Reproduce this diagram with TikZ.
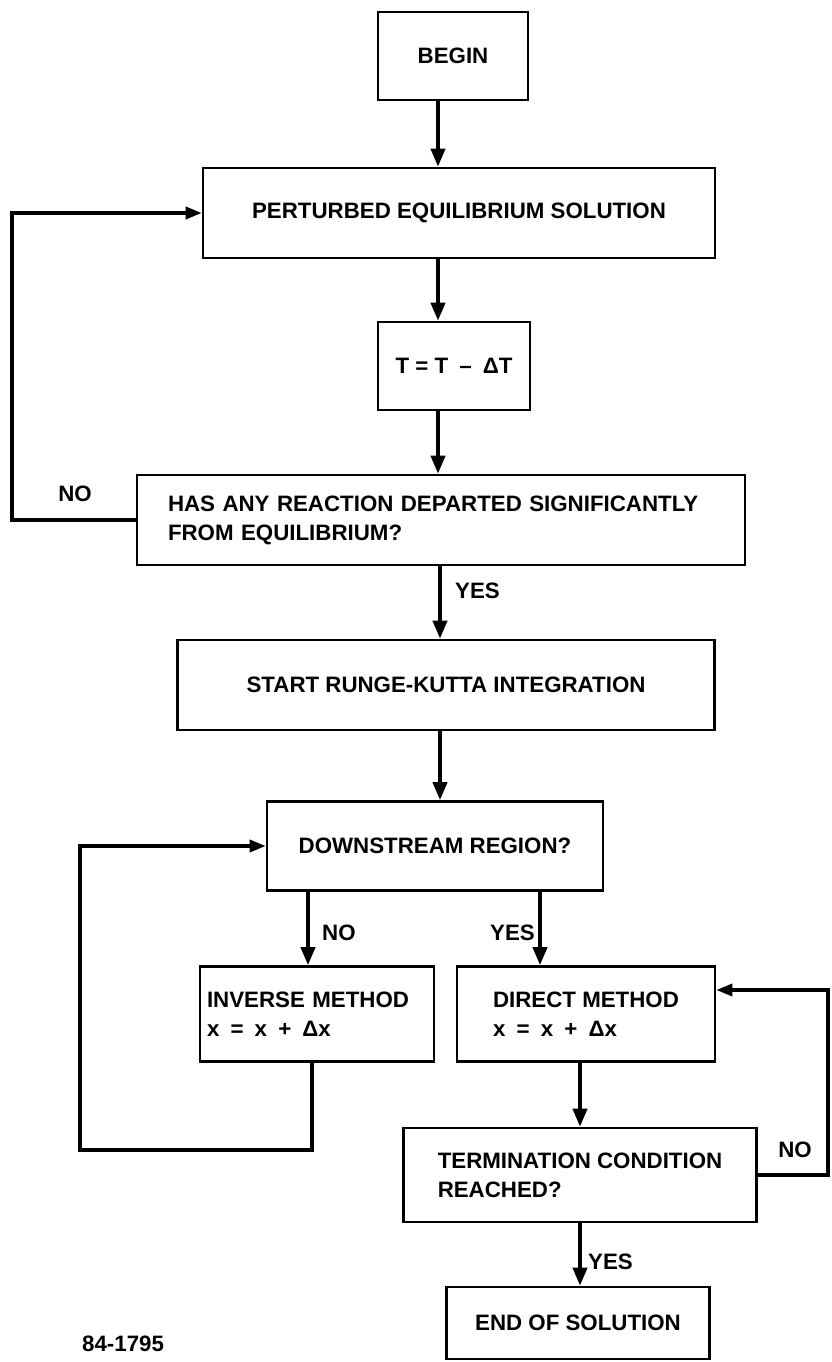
\documentclass[tikz,border=0pt]{standalone}
\usepackage{fontspec}
\setmainfont{Liberation Sans}
\usetikzlibrary{arrows.meta}
\begin{document}
\begin{tikzpicture}[x=1pt,y=-1pt,
  box/.style={draw,line width=2.6pt,inner sep=0pt,align=left,font=\fontsize{22.3}{29}\selectfont\bfseries},
  arr/.style={line width=3.8pt,-{Triangle[length=18pt,width=14pt]}},
  loop/.style={line width=3.4pt,-{Triangle[length=16pt,width=12pt]}},
  lab/.style={font=\fontsize{22.3}{26}\selectfont\bfseries,inner sep=0pt}]
\useasboundingbox (0,0) rectangle (831,1362);
\fill[white] (0,0) rectangle (831,1362);
% boxes
\node[box,minimum width=150pt,minimum height=88pt] (begin) at (453,56) {BEGIN};
\node[box,minimum width=512pt,minimum height=90pt] (pert) at (459,213) {PERTURBED EQUILIBRIUM SOLUTION};
\node[box,minimum width=152pt,minimum height=88pt] (t) at (454,366) {T = T\enspace--\enspace ΔT};
\node[box,inner xsep=31pt,text width=546pt,minimum height=90pt] (has) at (441,520) {HAS ANY REACTION DEPARTED SIGNIFICANTLY\\FROM EQUILIBRIUM?};
\node[box,minimum width=537pt,minimum height=90pt] (start) at (446,685) {START RUNGE-KUTTA INTEGRATION};
\node[box,minimum width=336pt,minimum height=89pt] (down) at (435,846) {DOWNSTREAM REGION?};
\node[box,inner xsep=7pt,text width=220pt,minimum height=95pt] (inv) at (317,1014) {INVERSE METHOD\\x\enspace=\enspace x\enspace+\enspace Δx};
\node[box,minimum width=258pt,minimum height=95pt] (dir) at (586,1014) {DIRECT METHOD\\x\enspace=\enspace x\enspace+\enspace Δx};
\node[box,minimum width=353pt,minimum height=94pt] (term) at (580,1175) {TERMINATION CONDITION\\REACHED?};
\node[box,minimum width=263pt,minimum height=72pt] (end) at (578,1323) {END OF SOLUTION};
% helper coordinates
\coordinate (cx) at (438,0);
\coordinate (sx) at (440,0);
\coordinate (nx) at (308,0);
\coordinate (yx) at (540,0);
\coordinate (ix) at (312,0);
\coordinate (ex) at (580,0);
\coordinate (lx) at (12,0);
\coordinate (lp) at (80,1150);
\coordinate (rt) at (828,990);
% connectors
\draw[arr] (begin.south -| cx) -- (pert.north -| cx);
\draw[arr] (pert.south -| cx) -- (t.north -| cx);
\draw[arr] (t.south -| cx) -- (has.north -| cx);
\draw[arr] (has.south -| sx) -- (start.north -| sx);
\draw[loop] (has.west) -- (has.west -| lx) |- (pert.west);
\draw[arr] (start.south -| sx) -- (down.north -| sx);
\draw[arr] (down.south -| nx) -- (inv.north -| nx);
\draw[arr] (down.south -| yx) -- (dir.north -| yx);
\draw[loop] (inv.south -| ix) |- (lp) |- (down.west);
\draw[arr] (dir.south -| ex) -- (term.north -| ex);
\draw[loop] (term.east) -| (rt) -- (dir.east |- rt);
\draw[arr] (term.south -| ex) -- (end.north -| ex);
% labels
\node[lab] (l1) at (75,494) {NO};
\node[lab,anchor=west] (l2) at (455,591) {YES};
\node[lab,anchor=west] (l3) at (322,933) {NO};
\node[lab,anchor=east] (l4) at (535,933) {YES};
\node[lab] (l5) at (795,1150) {NO};
\node[lab,anchor=west] (l6) at (588,1262) {YES};
\node[lab,anchor=south west] (fig) at (82,1352) {84-1795};
\end{tikzpicture}
\end{document}
